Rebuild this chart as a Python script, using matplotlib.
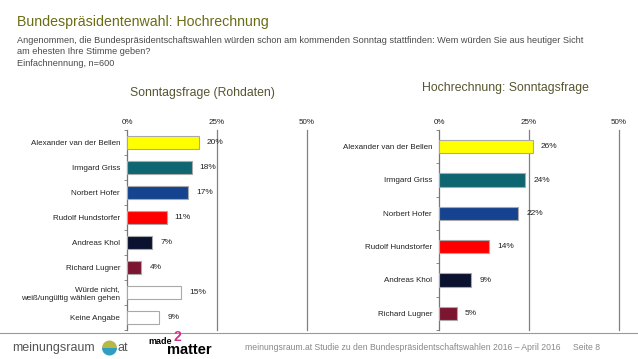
import matplotlib.pyplot as plt
from matplotlib.patches import Wedge

plt.rcParams['font.family'] = ['Liberation Sans', 'DejaVu Sans']

# Data
raw_labels = ["Alexander van der Bellen", "Irmgard Griss", "Norbert Hofer",
              "Rudolf Hundstorfer", "Andreas Khol", "Richard Lugner",
              "Würde nicht,\nweiß/ungültig wählen gehen", "Keine Angabe"]
raw_values = [20, 18, 17, 11, 7, 4, 15, 9]
raw_colors = ["#ffff00", "#0e6670", "#16438f", "#ff0000", "#0b1230", "#7b1530",
              "#ffffff", "#ffffff"]

proj_labels = ["Alexander van der Bellen", "Irmgard Griss", "Norbert Hofer",
               "Rudolf Hundstorfer", "Andreas Khol", "Richard Lugner"]
proj_values = [26, 24, 22, 14, 9, 5]
proj_colors = raw_colors[:6]

ticks = [0, 25, 50]
tick_labels = ["0%", "25%", "50%"]

W, H = 638, 359
fig = plt.figure(figsize=(W / 100, H / 100), dpi=100)
fig.patch.set_facecolor("white")


def px_axes(x0, x1, y0, y1):
    return fig.add_axes([x0 / W, 1 - y1 / H, (x1 - x0) / W, (y1 - y0) / H])


def bar_panel(ax, labels, values, colors, height):
    n = len(labels)
    pos = list(range(n))
    ax.barh(pos, values, height=height, color=colors, edgecolor="#a9a9a9",
            linewidth=0.8, zorder=3)
    for p, v in zip(pos, values):
        ax.text(v + 2.2, p, f"{v}%", va="center", ha="left", fontsize=6,
                color="#222222", zorder=4)
    ax.set_ylim(n - 0.5, -0.5)
    ax.set_xlim(0, 50)
    ax.set_yticks(pos)
    ax.set_yticklabels(labels, fontsize=5.8, color="#222222")
    ax.tick_params(axis="y", length=0, pad=5)
    ax.set_yticks([p + 0.5 for p in range(-1, n)], minor=True)
    ax.tick_params(axis="y", which="minor", length=2.5, color="#777777",
                   direction="out")
    ax.xaxis.tick_top()
    ax.set_xticks(ticks)
    ax.set_xticklabels(tick_labels, fontsize=5.8, color="#222222")
    ax.tick_params(axis="x", length=0, pad=3)
    for t in ticks[1:]:
        ax.axvline(t, color="#808080", linewidth=0.9, zorder=1, clip_on=False)
    for s in ["top", "right", "bottom"]:
        ax.spines[s].set_visible(False)
    ax.spines["left"].set_color("#777777")
    ax.spines["left"].set_linewidth(0.9)
    ax.set_facecolor("none")


ax1 = px_axes(127, 307, 130, 330)
bar_panel(ax1, raw_labels, raw_values, raw_colors, 0.5)

ax2 = px_axes(439, 619, 130, 330)
bar_panel(ax2, proj_labels, proj_values, proj_colors, 0.4)

# Titles
olive = "#6b6b14"
fig.text(17 / W, 1 - 22 / H, "Bundespräsidentenwahl: Hochrechnung",
         fontsize=10.2, color=olive, va="center", ha="left")
fig.text(17 / W, 1 - 36 / H,
         "Angenommen, die Bundespräsidentschaftswahlen würden schon am kommenden "
         "Sonntag stattfinden: Wem würden Sie aus heutiger Sicht\n"
         "am ehesten Ihre Stimme geben?\nEinfachnennung, n=600",
         fontsize=6.6, color="#4a4a4a", va="top", ha="left", linespacing=1.35)
fig.text(202.5 / W, 1 - 93 / H, "Sonntagsfrage (Rohdaten)", fontsize=8.8,
         color="#555530", ha="center", va="center")
fig.text(505 / W, 1 - 88 / H, "Hochrechnung: Sonntagsfrage", fontsize=8.8,
         color="#555530", ha="center", va="center")

# Footer
fig.add_artist(plt.Line2D([0, 1], [1 - 333 / H, 1 - 333 / H],
                          transform=fig.transFigure, color="#999999",
                          linewidth=0.8))
fig.text(12 / W, 1 - 348 / H, "meinungsraum", fontsize=9.0, color="#555555",
         ha="left", va="center")
gx, gy, gr = 1.095, (H - 348) / 100, 0.075
fig.add_artist(Wedge((gx, gy), gr, 0, 180, transform=fig.dpi_scale_trans,
                     facecolor="#b7b84a", edgecolor="none"))
fig.add_artist(Wedge((gx, gy), gr, 180, 360, transform=fig.dpi_scale_trans,
                     facecolor="#2f9ec2", edgecolor="none"))
fig.text(118 / W, 1 - 348 / H, "at", fontsize=9.0, color="#555555",
         ha="left", va="center")
fig.text(148 / W, 1 - 342 / H, "made", fontsize=6.5, color="black",
         fontweight="bold", ha="left", va="center")
fig.text(173 / W, 1 - 337 / H, "2", fontsize=10, color="#d0308a",
         fontweight="bold", ha="left", va="center")
fig.text(167 / W, 1 - 350.5 / H, "matter", fontsize=10.5, color="black",
         fontweight="bold", ha="left", va="center")
fig.text(245 / W, 1 - 348 / H,
         "meinungsraum.at Studie zu den Bundespräsidentschaftswahlen 2016 – April 2016",
         fontsize=6.2, color="#888888", ha="left", va="center")
fig.text(573 / W, 1 - 348 / H, "Seite 8", fontsize=6.2, color="#888888",
         ha="left", va="center")

fig.savefig("out.png", dpi=100, facecolor="white")
